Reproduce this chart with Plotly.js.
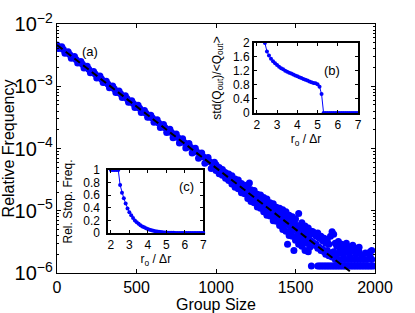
<!DOCTYPE html>
<html>
<head>
<meta charset="utf-8">
<script src="https://cdn.plot.ly/plotly-3.0.1.min.js"></script>
<style>html,body{margin:0;padding:0;background:#fff;}#chart{width:415px;height:313px;}</style>
</head>
<body>
<div id="chart"></div>
<script>
// ---------- main panel (a) ----------
const sizeCore = [0,20,40,60,80,100,120,140,160,180,200,220,240,260,280,300,320,340,360,380,400,420,440,460,480,500,520,540,560,580,600,620,640,660,680,700,720,740,760,780,800,820,840,860,880,900,920,940,960,980,1000];
const freqCore = [4.6e-3,4.1e-3,3.9e-3,3.45e-3,3.25e-3,2.88e-3,2.70e-3,2.40e-3,2.26e-3,2.0e-3,1.88e-3,1.66e-3,1.57e-3,1.39e-3,1.31e-3,1.16e-3,1.09e-3,9.6e-4,9.1e-4,8.0e-4,7.6e-4,6.7e-4,6.35e-4,5.6e-4,5.3e-4,4.65e-4,4.42e-4,3.88e-4,3.70e-4,3.22e-4,3.10e-4,2.68e-4,2.58e-4,2.24e-4,2.16e-4,1.86e-4,1.80e-4,1.55e-4,1.50e-4,1.29e-4,1.25e-4,1.07e-4,1.05e-4,8.9e-5,8.8e-5,7.4e-5,7.4e-5,6.2e-5,6.1e-5,5.1e-5,5.1e-5];
const sizeCore2 = [10,30,50,70,90,110,130,150,170,190,210,230,250,270,290,310,330,350,370,390,410,430,450,470,490,510,530,550,570,590,610,630,650,670,690,710,730,750,770,790,810,830,850,870,890,910,930,950,970,990];
const freqCore2 = [4.04e-3,4.32e-3,3.40e-3,3.58e-3,2.81e-3,3.01e-3,2.37e-3,2.49e-3,1.96e-3,2.10e-3,1.65e-3,1.73e-3,1.36e-3,1.46e-3,1.15e-3,1.20e-3,9.45e-4,1.01e-3,7.96e-4,8.38e-4,6.58e-4,7.05e-4,5.54e-4,5.83e-4,4.57e-4,4.95e-4,3.78e-4,4.08e-4,3.18e-4,3.43e-4,2.63e-4,2.90e-4,2.17e-4,2.42e-4,1.81e-4,2.03e-4,1.49e-4,1.71e-4,1.23e-4,1.43e-4,1.02e-4,1.20e-4,8.45e-5,1.01e-4,6.96e-5,8.5e-5,5.8e-5,7.15e-5,4.79e-5,6.0e-5];
const sizeTail = [1000,1010,1020,1030,1040,1050,1060,1070,1080,1090,1100,1110,1120,1130,1140,1150,1160,1170,1180,1190,1200,1210,1220,1230,1240,1250,1260,1270,1280,1290,1300,1310,1320,1330,1340,1350,1360,1370,1380,1390,1400,1410,1420,1430,1440,1450,1460,1470,1480,1490,1500,1510,1520,1530,1540,1550,1560,1570,1580,1590,1600];
const freqTailMid = [4.9e-5,4.8e-5,4.4e-5,4.35e-5,4.0e-5,3.95e-5,3.65e-5,3.62e-5,3.33e-5,3.3e-5,3.05e-5,3.02e-5,2.78e-5,2.76e-5,2.54e-5,2.52e-5,2.33e-5,2.30e-5,2.12e-5,2.10e-5,1.94e-5,1.92e-5,1.77e-5,1.76e-5,1.62e-5,1.60e-5,1.48e-5,1.46e-5,1.35e-5,1.34e-5,1.23e-5,1.22e-5,1.13e-5,1.12e-5,1.03e-5,1.02e-5,9.4e-6,9.3e-6,8.6e-6,8.5e-6,7.8e-6,7.8e-6,7.1e-6,7.1e-6,6.5e-6,6.5e-6,5.9e-6,5.9e-6,5.4e-6,5.4e-6,4.9e-6,4.9e-6,4.5e-6,4.5e-6,4.1e-6,4.1e-6,3.8e-6,3.75e-6,3.4e-6,3.4e-6,3.2e-6];
const freqTailUp = [5.5e-5,4.97e-5,4.93e-5,4.49e-5,4.62e-5,4.18e-5,4.08e-5,3.71e-5,3.89e-5,3.46e-5,3.65e-5,3.22e-5,3.25e-5,2.99e-5,3.12e-5,2.66e-5,2.74e-5,2.47e-5,2.56e-5,2.28e-5,2.48e-5,2.78e-5,2.17e-5,1.94e-5,2.11e-5,1.82e-5,1.84e-5,1.58e-5,1.79e-5,1.50e-5,1.64e-5,1.38e-5,1.55e-5,1.32e-5,1.34e-5,1.12e-5,1.29e-5,1.09e-5,1.14e-5,9.7e-6,1.10e-5,9.0e-6,1.04e-5,8.5e-6,9.6e-6,7.7e-6,8.5e-6,7.3e-6,8.0e-6,6.4e-6,7.4e-6,5.8e-6,9.0e-6,5.5e-6,6.4e-6,4.9e-6,5.7e-6,4.4e-6,5.3e-6,4.2e-6,4.7e-6];
const freqTailLow = [4.42e-5,4.46e-5,3.94e-5,4.02e-5,3.72e-5,3.75e-5,3.33e-5,3.32e-5,3.07e-5,3.10e-5,2.68e-5,2.74e-5,2.39e-5,2.45e-5,2.26e-5,2.32e-5,1.95e-5,2.04e-5,1.87e-5,1.88e-5,1.58e-5,1.70e-5,1.41e-5,1.49e-5,1.35e-5,1.42e-5,1.15e-5,1.25e-5,1.10e-5,1.16e-5,9.6e-6,1.06e-5,8.5e-6,9.4e-6,8.2e-6,9.0e-6,6.9e-6,7.9e-6,6.8e-6,7.3e-6,5.8e-6,6.6e-6,5.0e-6,5.9e-6,4.7e-6,2.9e-6,4.0e-6,4.8e-6,3.9e-6,2.3e-6,3.35e-6,4.0e-6,2.9e-6,3.5e-6,2.7e-6,3.2e-6,2.3e-6,3.0e-6,2.2e-6,2.6e-6,1.3e-6];
const sizeFar = [1610,1620,1630,1640,1650,1660,1670,1680,1690,1700,1710,1720,1730,1740,1750,1760,1770,1780,1790,1800,1810,1820,1830,1840,1850,1860,1870,1880,1890,1900,1910,1920,1930,1940,1950,1960,1970,1980,1990];
const freqFarMid = [3.1e-6,2.8e-6,2.9e-6,2.5e-6,2.6e-6,2.3e-6,2.4e-6,2.2e-6,2.0e-6,2.3e-6,1.9e-6,2.1e-6,1.8e-6,2.2e-6,1.65e-6,2.0e-6,1.65e-6,2.3e-6,1.65e-6,2.0e-6,1.65e-6,2.2e-6,1.65e-6,1.9e-6,1.65e-6,2.3e-6,1.65e-6,2.0e-6,1.65e-6,2.2e-6,1.65e-6,1.9e-6,1.65e-6,2.1e-6,1.65e-6,null,1.8e-6,1.65e-6,null];
const freqFarUp = [4.6e-6,4.2e-6,3.9e-6,4.4e-6,3.6e-6,3.9e-6,3.3e-6,3.6e-6,3.0e-6,3.4e-6,2.9e-6,3.9e-6,4.6e-6,4.2e-6,3.0e-6,2.7e-6,3.2e-6,2.6e-6,2.9e-6,2.5e-6,2.7e-6,3.0e-6,2.4e-6,2.6e-6,2.3e-6,2.8e-6,2.3e-6,2.5e-6,2.3e-6,2.6e-6,null,null,null,null,null,null,2.2e-6,2.3e-6,null];
const sizeFloor = [1640,1650,1660,1670,1680,1690,1700,1710,1720,1730,1740,1750,1760,1770,1780,1790,1800,1810,1820,1830,1840,1850,1860,1870,1880,1890,1900,1910,1920,1930,1940,1950,1960,1970,1980,1990];
const freqFloor = [1.3e-6,1.3e-6,1.3e-6,1.3e-6,1.3e-6,1.3e-6,1.3e-6,1.3e-6,1.3e-6,1.3e-6,1.3e-6,1.3e-6,1.3e-6,1.3e-6,1.3e-6,1.3e-6,1.3e-6,1.3e-6,1.3e-6,1.3e-6,1.3e-6,1.3e-6,1.3e-6,1.3e-6,1.3e-6,1.3e-6,1.3e-6,1.3e-6,1.3e-6,1.3e-6,1.3e-6,1.3e-6,1.3e-6,1.3e-6,1.3e-6,1.3e-6];
// exponential fit (dashed)
const fitSize = [0, 2000];
const fitFreq = [4.59e-3, 5.2e-7];

const xTicksMain = [0, 500, 1000, 1500, 2000];

// ---------- inset (b) ----------
const roB = [2.4,2.5,2.6,2.7,2.8,2.9,3.0,3.1,3.2,3.3,3.4,3.5,3.6,3.7,3.8,3.9,4.0,4.1,4.2,4.3,4.4,4.5,4.6,4.7,4.8,4.9,5.0,5.1,5.2,5.3,5.4,5.5,5.6,5.7,5.8,5.9,6.0,6.1,6.2,6.3,6.4,6.5,6.6,6.7,6.8,6.9,7.0];
const stdQ = [2.0,1.76,1.64,1.55,1.48,1.42,1.37,1.32,1.28,1.25,1.21,1.18,1.15,1.13,1.10,1.07,1.05,1.02,1.0,0.97,0.95,0.93,0.9,0.88,0.86,0.85,0.82,0.75,0.54,0,0,0,0,0,0,0,0,0,0,0,0,0,0,0,0,0,0];
const yTicksB = [0,0.4,0.8,1.2,1.6,2];
const yTickTextB = ['0','0.4','0.8','1.2','1.6','2'];

// ---------- inset (c) ----------
const roC = [2.0,2.1,2.2,2.3,2.4,2.5,2.6,2.7,2.8,2.9,3.0,3.1,3.2,3.3,3.4,3.5,3.6,3.7,3.8,3.9,4.0,4.1,4.2,4.3,4.4,4.5,4.6,4.7,4.8,4.9,5.0,5.1,5.2,5.3,5.4,5.5,5.6,5.7,5.8,5.9,6.0,6.1,6.2,6.3,6.4,6.5,6.6,6.7,6.8,6.9,7.0];
const stopFreq = [1,1,1,1,1,0.76,0.64,0.55,0.47,0.39,0.33,0.28,0.24,0.2,0.17,0.145,0.125,0.105,0.09,0.075,0.062,0.052,0.043,0.035,0.029,0.024,0.019,0.015,0.012,0.01,0.008,0.006,0.005,0.004,0.003,0.002,0.002,0.001,0.001,0.001,0,0,0,0,0,0,0,0,0,0,0];
const yTicksC = [0,0.2,0.4,0.6,0.8,1];
const yTickTextC = ['0','0.2','0.4','0.6','0.8','1'];
const xTicksInset = [2,3,4,5,6,7];

const blue = '#0000ff';
const font = 'Liberation Sans, Arial, Helvetica, sans-serif';

const mainX = [].concat(sizeCore, sizeCore2, sizeTail, sizeTail, sizeTail, sizeFar, sizeFar, sizeFloor);
const mainY = [].concat(freqCore, freqCore2, freqTailMid, freqTailUp, freqTailLow, freqFarMid, freqFarUp, freqFloor);

const traces = [
  {x: mainX, y: mainY, type: 'scatter', mode: 'markers', marker: {color: blue, size: 7}, xaxis: 'x', yaxis: 'y', hoverinfo: 'skip'},
  {x: fitSize, y: fitFreq, type: 'scatter', mode: 'lines', line: {color: '#000', width: 2, dash: '7px,4px'}, xaxis: 'x', yaxis: 'y'},
  {x: roB, y: stdQ, type: 'scatter', mode: 'lines+markers', line: {color: blue, width: 1}, marker: {color: blue, size: 4}, xaxis: 'x2', yaxis: 'y2', cliponaxis: false},
  {x: roC, y: stopFreq, type: 'scatter', mode: 'lines+markers', line: {color: blue, width: 1}, marker: {color: blue, size: 4}, xaxis: 'x3', yaxis: 'y3', cliponaxis: false}
];

const insetAxis = {
  showline: true, linecolor: '#000', linewidth: 2, mirror: 'ticks', ticks: 'inside', ticklen: 3, tickcolor: '#000',
  showgrid: false, zeroline: false, tickfont: {size: 12, family: font, color: '#000'}
};

const layout = {
  width: 415, height: 313,
  margin: {l: 57, r: 40, t: 24, b: 40},
  paper_bgcolor: '#fff', plot_bgcolor: '#fff',
  showlegend: false,
  font: {family: font, color: '#000'},
  xaxis: {
    domain: [0, 1], range: [0, 2000], tickmode: 'array', tickvals: xTicksMain,
    ticks: 'inside', ticklen: 4, tickcolor: '#000', showline: true, linecolor: '#000', linewidth: 1, mirror: 'ticks',
    showgrid: false, zeroline: false, tickfont: {size: 16}, anchor: 'y',
    title: {text: 'Group Size', font: {size: 16}, standoff: 5}
  },
  yaxis: {
    domain: [0, 1], type: 'log', range: [-6, -2], tickmode: 'linear', tick0: 0, dtick: 1, exponentformat: 'power',
    ticks: 'inside', ticklen: 4, tickcolor: '#000', showline: true, linecolor: '#000', linewidth: 1, mirror: 'ticks',
    minor: {dtick: 'D1', ticks: 'inside', ticklen: 2, tickcolor: '#000', showgrid: false},
    showgrid: false, zeroline: false, tickfont: {size: 16}, anchor: 'x',
    title: {text: 'Relative Frequency', font: {size: 16}, standoff: 4}
  },
  xaxis2: Object.assign({}, insetAxis, {
    domain: [0.6195, 0.9465], range: [1.86, 7], tickmode: 'array', tickvals: xTicksInset, anchor: 'y2',
    title: {text: 'r<sub>o</sub> / Δr', font: {size: 12}, standoff: 3}
  }),
  yaxis2: Object.assign({}, insetAxis, {
    domain: [0.6426, 0.9237], range: [0, 2], tickmode: 'array', tickvals: yTicksB, ticktext: yTickTextB, anchor: 'x2',
    title: {text: 'std(Q<sub>out</sub>)/&lt;Q<sub>out</sub>&gt;', font: {size: 12}, standoff: 9}
  }),
  xaxis3: Object.assign({}, insetAxis, {
    domain: [0.1613, 0.46], range: [1.86, 7], tickmode: 'array', tickvals: xTicksInset, anchor: 'y3',
    title: {text: 'r<sub>o</sub> / Δr', font: {size: 12}, standoff: 1}
  }),
  yaxis3: Object.assign({}, insetAxis, {
    domain: [0.1606, 0.4137], range: [0, 1], tickmode: 'array', tickvals: yTicksC, ticktext: yTickTextC, anchor: 'x3',
    layer: 'below traces', ticklabelstandoff: 4,
    title: {text: 'Rel. Stop. Freq.', font: {size: 12}, standoff: 8}
  }),
  annotations: [
    {text: '(a)', x: 0.0723, y: 0.9277, xref: 'paper', yref: 'paper', showarrow: false, font: {size: 13}},
    {text: '(b)', x: 0.896, y: 0.851, xref: 'paper', yref: 'paper', showarrow: false, font: {size: 13}},
    {text: '(c)', x: 0.408, y: 0.3466, xref: 'paper', yref: 'paper', showarrow: false, font: {size: 13}}
  ]
};

Plotly.newPlot('chart', traces, layout, {staticPlot: true, displayModeBar: false});
</script>
</body>
</html>
